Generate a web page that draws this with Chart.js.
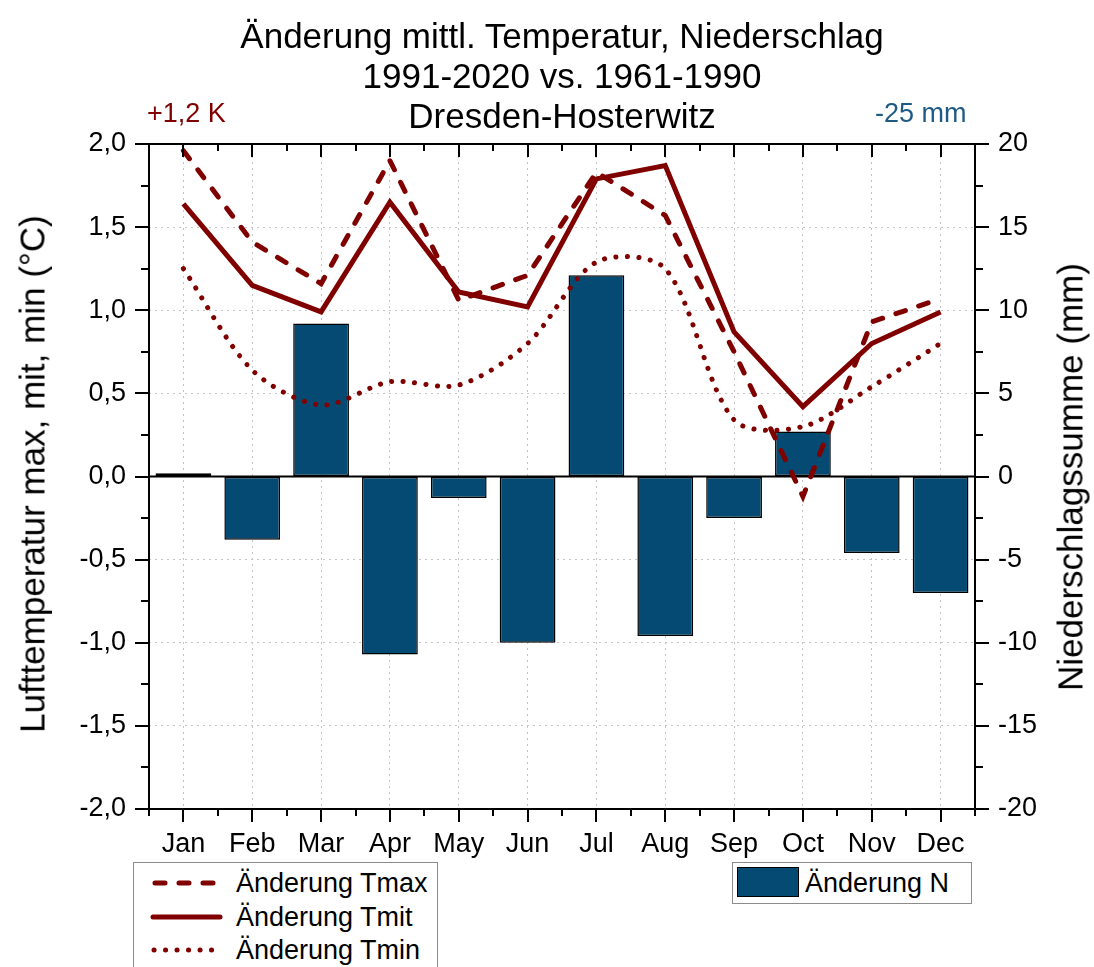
<!DOCTYPE html>
<html lang="de">
<head>
<meta charset="utf-8">
<title>Änderung mittl. Temperatur, Niederschlag</title>
<script src="https://cdn.jsdelivr.net/npm/chart.js@4.4.1/dist/chart.umd.min.js"></script>
<style>
  body { margin: 0; background: #fff; }
  #wrap { position: relative; width: 1094px; height: 967px; overflow: hidden; font-family: "Liberation Sans", Arial, sans-serif; color: #000; }
  #chart { position: absolute; left: 0; top: 0; }
  .txt { position: absolute; white-space: nowrap; }
  .title { font-size: 35px; line-height: 35px; width: 1094px; left: 15px; text-align: center; }
  .note { font-size: 27px; line-height: 27px; }
  .axt { font-size: 35px; line-height: 35px; transform: translate(-50%, -50%) rotate(-90deg); }
  .legbox { position: absolute; border: 1px solid #8c8c8c; background: #fff; }
  .legrow { position: absolute; font-size: 27px; line-height: 27px; white-space: nowrap; }
  .legrow svg { position: absolute; }
</style>
</head>
<body>
<div id="wrap">
  <canvas id="chart" width="1094" height="967"></canvas>

  <div class="txt title" style="top:18px">Änderung mittl. Temperatur, Niederschlag</div>
  <div class="txt title" style="top:58px">1991-2020 vs. 1961-1990</div>
  <div class="txt title" style="top:98px">Dresden-Hosterwitz</div>
  <div class="txt note" style="left:147px; top:100px; color:#800000">+1,2 K</div>
  <div class="txt note" style="left:875px; top:100px; color:#1e5a84">-25 mm</div>

  <div class="txt axt" style="left:32px; top:474px">Lufttemperatur max, mit, min (°C)</div>
  <div class="txt axt" style="left:1070px; top:477px">Niederschlagssumme (mm)</div>

  <div class="legbox" style="left:133px; top:862px; width:303px; height:130px">
    <div class="legrow" style="left:0; top:7px; width:300px; height:27px">
      <svg width="80" height="12" style="left:16px; top:7px"><line x1="5" y1="6" x2="70" y2="6" stroke="#800000" stroke-width="5" stroke-linecap="round" stroke-dasharray="10 14"/></svg>
      <span style="position:absolute; left:102px; top:0">Änderung Tmax</span>
    </div>
    <div class="legrow" style="left:0; top:41px; width:300px; height:27px">
      <svg width="80" height="12" style="left:16px; top:7px"><line x1="3" y1="6" x2="70" y2="6" stroke="#800000" stroke-width="5" stroke-linecap="round"/></svg>
      <span style="position:absolute; left:102px; top:0">Änderung Tmit</span>
    </div>
    <div class="legrow" style="left:0; top:74px; width:300px; height:27px">
      <svg width="80" height="12" style="left:16px; top:7px"><line x1="4" y1="6" x2="70" y2="6" stroke="#800000" stroke-width="5" stroke-linecap="round" stroke-dasharray="0.1 11.4"/></svg>
      <span style="position:absolute; left:102px; top:0">Änderung Tmin</span>
    </div>
  </div>

  <div class="legbox" style="left:732px; top:862px; width:238px; height:40px">
    <div style="position:absolute; left:4px; top:4px; width:60px; height:28px; background:#044a72; border:1.5px solid #000"></div>
    <div class="legrow" style="left:72px; top:7px">Änderung N</div>
  </div>
</div>

<script>
// Monate
const months = ['Jan', 'Feb', 'Mar', 'Apr', 'May', 'Jun', 'Jul', 'Aug', 'Sep', 'Oct', 'Nov', 'Dec'];

// Änderung der Temperatur (K), 1991-2020 vs. 1961-1990
const tmax = [1.96, 1.41, 1.16, 1.90, 1.06, 1.21, 1.83, 1.57, 0.75, -0.12, 0.93, 1.07];
const tmit = [1.64, 1.15, 0.99, 1.65, 1.11, 1.02, 1.79, 1.87, 0.87, 0.42, 0.80, 0.99];
const tmin = [1.25, 0.64, 0.43, 0.57, 0.55, 0.80, 1.29, 1.25, 0.34, 0.30, 0.54, 0.80];

// Änderung Niederschlagssumme (mm)
const niederschlag = [0.2, -3.8, 9.2, -10.7, -1.3, -10.0, 12.1, -9.6, -2.5, 2.7, -4.6, -7.0];

// Achsen
const tempRange = [-2, 2];
const tempStep = 0.5;
const rainRange = [-20, 20];
const rainStep = 5;

const red = '#800000';
const blue = '#044a72';
const tickFont = { family: '"Liberation Sans", Arial, sans-serif', size: 27 };

// Rahmen, Nulllinie und Achsenstriche (innen oben, außen links/rechts/unten)
const framePlugin = {
    id: 'frame',
    beforeDatasetsDraw(chart) {
        const { ctx, chartArea: a } = chart;
        const y0 = chart.scales.y.getPixelForValue(0);
        ctx.save();
        ctx.strokeStyle = '#000';
        ctx.lineWidth = 2;
        ctx.beginPath();
        ctx.moveTo(a.left, y0);
        ctx.lineTo(a.right, y0);
        ctx.stroke();
        ctx.restore();
    },
    afterDraw(chart) {
        const { ctx, chartArea: a } = chart;
        const x = chart.scales.x, y = chart.scales.y, y1 = chart.scales.y1;
        ctx.save();
        ctx.strokeStyle = '#000';
        ctx.lineWidth = 2;
        ctx.strokeRect(a.left, a.top, a.right - a.left, a.bottom - a.top);
        ctx.beginPath();
        // x: Monate (major) und Monatsgrenzen (minor)
        for (let i = -0.5; i <= months.length - 0.5; i += 0.5) {
            const px = Math.round(x.getPixelForValue(i));
            const major = Number.isInteger(i);
            const len = major ? 13 : 7;
            ctx.moveTo(px, a.bottom); ctx.lineTo(px, a.bottom + len);
            ctx.moveTo(px, a.top); ctx.lineTo(px, a.top + len);
        }
        // links: Temperatur
        for (let v = tempRange[0]; v <= tempRange[1] + 1e-9; v += tempStep / 2) {
            const py = Math.round(y.getPixelForValue(v));
            const major = Math.abs(v / tempStep - Math.round(v / tempStep)) < 1e-6;
            ctx.moveTo(a.left, py); ctx.lineTo(a.left - (major ? 14 : 8), py);
        }
        // rechts: Niederschlag
        for (let v = rainRange[0]; v <= rainRange[1]; v += rainStep / 2) {
            const py = Math.round(y1.getPixelForValue(v));
            const major = v % rainStep === 0;
            ctx.moveTo(a.right, py); ctx.lineTo(a.right + (major ? 14 : 8), py);
        }
        ctx.stroke();
        ctx.restore();
    }
};

new Chart(document.getElementById('chart'), {
    type: 'bar',
    data: {
        labels: months,
        datasets: [
            {
                type: 'line',
                label: 'Änderung Tmax',
                data: tmax,
                yAxisID: 'y',
                borderColor: red,
                borderWidth: 5,
                borderDash: [10, 14],
                borderCapStyle: 'round',
                pointRadius: 0,
                tension: 0,
                order: 1
            },
            {
                type: 'line',
                label: 'Änderung Tmit',
                data: tmit,
                yAxisID: 'y',
                borderColor: red,
                borderWidth: 5,
                borderJoinStyle: 'miter',
                pointRadius: 0,
                tension: 0,
                order: 1
            },
            {
                type: 'line',
                label: 'Änderung Tmin',
                data: tmin,
                yAxisID: 'y',
                borderColor: red,
                borderWidth: 5,
                borderDash: [0.1, 11.4],
                borderCapStyle: 'round',
                pointRadius: 0,
                tension: 0.3,
                order: 1
            },
            {
                label: 'Änderung N',
                data: niederschlag,
                yAxisID: 'y1',
                backgroundColor: blue,
                borderColor: '#000',
                borderWidth: 1.5,
                borderSkipped: false,
                categoryPercentage: 1,
                barPercentage: 0.81,
                order: 2
            }
        ]
    },
    options: {
        responsive: false,
        animation: false,
        devicePixelRatio: 1,
        layout: { padding: { top: 144, left: 0, right: 0, bottom: 0 } },
        plugins: {
            legend: { display: false },
            title: { display: false },
            tooltip: { enabled: false }
        },
        scales: {
            x: {
                offset: true,
                grid: { offset: false, color: '#c4c4c4', lineWidth: 1, drawTicks: false },
                border: { display: false, dash: [2, 4] },
                ticks: { color: '#000', font: tickFont, padding: 19, maxRotation: 0 },
                afterFit(scale) { scale.height = 158; }
            },
            y: {
                position: 'left',
                min: tempRange[0],
                max: tempRange[1],
                grid: { color: '#c4c4c4', lineWidth: 1, drawTicks: false },
                border: { display: false, dash: [2, 4] },
                ticks: {
                    stepSize: tempStep,
                    color: '#000',
                    font: tickFont,
                    padding: 23,
                    callback: v => v.toFixed(1).replace('.', ',')
                },
                afterFit(scale) { scale.width = 149; }
            },
            y1: {
                position: 'right',
                min: rainRange[0],
                max: rainRange[1],
                grid: { drawOnChartArea: false, drawTicks: false },
                border: { display: false },
                ticks: { stepSize: rainStep, color: '#000', font: tickFont, padding: 23 },
                afterFit(scale) { scale.width = 119; }
            }
        }
    },
    plugins: [framePlugin]
});
</script>
</body>
</html>
